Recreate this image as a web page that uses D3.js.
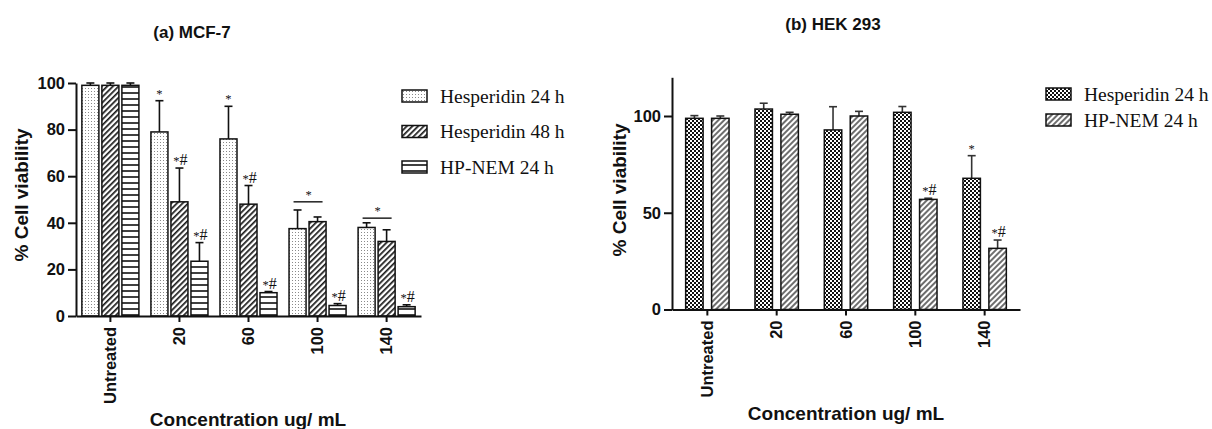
<!DOCTYPE html>
<html>
<head>
<meta charset="utf-8">
<script src="https://cdn.jsdelivr.net/npm/d3@7"></script>
<style>
  html, body { margin: 0; padding: 0; background: #fff; }
  svg { display: block; }
  .tick text { font-family: "Liberation Sans", Arial, sans-serif; font-weight: bold; font-size: 16.5px; fill: #111; }
</style>
</head>
<body>
<svg id="chart" width="1212" height="429"></svg>
<script>
// ---- MCF-7 panel data ----
const mcfCategories = ["Untreated", "20", "60", "100", "140"];
const mcfSeries = ["Hesperidin 24 h", "Hesperidin 48 h", "HP-NEM 24 h"];
const mcfHesp24 = [99, 79, 76, 37.5, 38];
const mcfHesp24Err = [1, 13.4, 14, 8, 2];
const mcfHesp48 = [99, 49, 48, 40.5, 32];
const mcfHesp48Err = [1, 14.5, 8, 2, 5];
const mcfNem24 = [99, 23.5, 10, 4.5, 4];
const mcfNem24Err = [1, 8, 0.5, 0.8, 0.8];
const mcfHesp24Marks = ["", "*", "*", "", ""];
const mcfHesp48Marks = ["", "*#", "*#", "", ""];
const mcfNem24Marks = ["", "*#", "*#", "*#", "*#"];
const mcfBracketCats = ["100", "140"];
const mcfBracketValues = [49, 42];
const mcfTicks = [0, 20, 40, 60, 80, 100];

// ---- HEK 293 panel data ----
const hekCategories = ["Untreated", "20", "60", "100", "140"];
const hekSeries = ["Hesperidin 24 h", "HP-NEM 24 h"];
const hekHesp24 = [98.8, 103.6, 92.8, 101.9, 67.8];
const hekHesp24Err = [1.4, 3, 12, 3, 11.7];
const hekNem24 = [98.8, 100.9, 100, 56.9, 31.6];
const hekNem24Err = [1.2, 1, 2.4, 0.6, 4.3];
const hekHesp24Marks = ["", "", "", "", "*"];
const hekNem24Marks = ["", "", "", "*#", "*#"];
const hekTicks = [0, 50, 100];

const svg = d3.select("#chart");
const defs = svg.append("defs");

// Fill patterns
function addPattern(id, w, h, transform, draw) {
  const p = defs.append("pattern")
    .attr("id", id).attr("patternUnits", "userSpaceOnUse")
    .attr("width", w).attr("height", h);
  if (transform) p.attr("patternTransform", transform);
  p.append("rect").attr("width", w).attr("height", h).attr("fill", "#fff");
  draw(p);
}
addPattern("stipple", 3, 3, null, p => {
  p.append("rect").attr("x", 1).attr("y", 1).attr("width", 1).attr("height", 1).attr("fill", "#8a8a8a");
});
addPattern("diagDark", 4, 4, "rotate(45)", p => {
  p.append("rect").attr("x", 0).attr("y", 0).attr("width", 1.7).attr("height", 4).attr("fill", "#1a1a1a");
});
addPattern("horiz", 6, 6, null, p => {
  p.append("rect").attr("x", 0).attr("y", 2.2).attr("width", 6).attr("height", 1.6).attr("fill", "#111");
});
addPattern("checker", 4, 4, null, p => {
  p.append("rect").attr("x", 0).attr("y", 0).attr("width", 2).attr("height", 2).attr("fill", "#111");
  p.append("rect").attr("x", 2).attr("y", 2).attr("width", 2).attr("height", 2).attr("fill", "#111");
});
addPattern("diagGrey", 4, 4, "rotate(45)", p => {
  p.append("rect").attr("x", 0).attr("y", 0).attr("width", 2).attr("height", 4).attr("fill", "#6e6e6e");
});

const axisFont = '"Liberation Sans", Arial, sans-serif';
const legendFont = '"Liberation Serif", "Times New Roman", serif';

function drawPanel(cfg) {
  const g = svg.append("g");
  const x = d3.scaleBand().domain(cfg.categories).range(cfg.xRange)
    .paddingInner(cfg.padInner).paddingOuter(cfg.padOuter);
  const xs = d3.scaleBand().domain(cfg.series).range([0, x.bandwidth()])
    .paddingInner(cfg.subPad).paddingOuter(0);
  const y = d3.scaleLinear().domain(cfg.yDomain).range(cfg.yRange);

  // bars, error bars, significance marks
  cfg.series.forEach((s, si) => {
    const vals = cfg.values[si], errs = cfg.errors[si], marks = cfg.marks[si];
    const sg = g.append("g");
    cfg.categories.forEach((c, ci) => {
      const bx = x(c) + xs(s), bw = xs.bandwidth(), cx = bx + bw / 2;
      const top = y(vals[ci] + errs[ci]);
      sg.append("line").attr("x1", cx).attr("x2", cx)
        .attr("y1", y(vals[ci])).attr("y2", top)
        .attr("stroke", cfg.errColor).attr("stroke-width", 1.6);
      sg.append("line").attr("x1", cx - 4).attr("x2", cx + 4)
        .attr("y1", top).attr("y2", top)
        .attr("stroke", cfg.errColor).attr("stroke-width", 1.6);
      sg.append("rect").attr("x", bx).attr("y", y(vals[ci]))
        .attr("width", bw).attr("height", y(0) - y(vals[ci]))
        .attr("fill", `url(#${cfg.patterns[si]})`)
        .attr("stroke", "#111").attr("stroke-width", 1.5);
      const m = marks[ci];
      if (m) {
        const t = sg.append("text").attr("x", cx + (m.length > 1 ? 1 : 0)).attr("y", top - 3)
          .attr("text-anchor", "middle").attr("font-family", legendFont).attr("fill", "#111");
        t.append("tspan").attr("font-size", 12.5).text("*");
        if (m.includes("#")) t.append("tspan").attr("font-size", 16).text("#");
      }
    });
  });

  // brackets spanning the first two series of a group
  (cfg.bracketCats || []).forEach((c, i) => {
    const c0 = x(c) + xs(cfg.series[0]) + xs.bandwidth() / 2;
    const c1 = x(c) + xs(cfg.series[1]) + xs.bandwidth() / 2;
    const by = y(cfg.bracketValues[i]);
    g.append("line").attr("x1", c0 - 4).attr("x2", c1 + 5).attr("y1", by).attr("y2", by)
      .attr("stroke", "#111").attr("stroke-width", 1.4);
    g.append("text").attr("x", (c0 + c1) / 2 + 1).attr("y", by - 3)
      .attr("text-anchor", "middle").attr("font-family", legendFont)
      .attr("font-size", 12.5).attr("fill", "#111").text("*");
  });

  // y axis
  const ya = g.append("g").attr("transform", `translate(${cfg.xRange[0]},0)`)
    .call(d3.axisLeft(y).tickValues(cfg.yTicks).tickSize(8).tickSizeOuter(0).tickPadding(3));
  ya.select(".domain").attr("stroke", "#111").attr("stroke-width", 2);
  ya.selectAll(".tick line").attr("stroke", "#111").attr("stroke-width", 2);

  // x axis
  const xa = g.append("g").attr("transform", `translate(0,${y(0)})`)
    .call(d3.axisBottom(x).tickSize(6).tickSizeOuter(0));
  xa.select(".domain").attr("stroke", "#111").attr("stroke-width", 2);
  xa.selectAll(".tick line").attr("stroke", "#111").attr("stroke-width", 2);
  xa.selectAll(".tick text")
    .attr("transform", "rotate(-90)")
    .attr("text-anchor", "end")
    .attr("x", -11).attr("y", 0).attr("dy", "0.35em");

  // axis titles
  g.append("text").attr("transform", `translate(${cfg.yLabelX},${cfg.yLabelY}) rotate(-90)`)
    .attr("text-anchor", "middle").attr("font-family", axisFont).attr("font-weight", "bold")
    .attr("font-size", 19).attr("fill", "#111").text("% Cell viability");
  g.append("text").attr("x", cfg.xLabelX).attr("y", cfg.xLabelY)
    .attr("text-anchor", "middle").attr("font-family", axisFont).attr("font-weight", "bold")
    .attr("font-size", 19).attr("fill", "#111").text("Concentration ug/ mL");

  // panel title
  g.append("text").attr("x", cfg.titleX).attr("y", cfg.titleY)
    .attr("text-anchor", "middle").attr("font-family", axisFont).attr("font-weight", "bold")
    .attr("font-size", 17).attr("fill", "#111").text(cfg.title);

  // legend
  cfg.series.forEach((s, si) => {
    const ly = cfg.legendY + si * cfg.legendStep;
    g.append("rect").attr("x", cfg.legendX).attr("y", ly - 6).attr("width", 25).attr("height", 12)
      .attr("fill", `url(#${cfg.patterns[si]})`).attr("stroke", "#111").attr("stroke-width", 1.5);
    g.append("text").attr("x", cfg.legendX + 38).attr("y", ly).attr("dy", "0.35em")
      .attr("font-family", legendFont).attr("font-size", 19.5).attr("fill", "#111").text(s);
  });
}

drawPanel({
  categories: mcfCategories, series: mcfSeries,
  values: [mcfHesp24, mcfHesp48, mcfNem24],
  errors: [mcfHesp24Err, mcfHesp48Err, mcfNem24Err],
  marks: [mcfHesp24Marks, mcfHesp48Marks, mcfNem24Marks],
  bracketCats: mcfBracketCats, bracketValues: mcfBracketValues,
  patterns: ["stipple", "diagDark", "horiz"], errColor: "#111",
  xRange: [76, 421], padInner: 0.174, padOuter: 0.085, subPad: 0.15,
  yDomain: [0, 100], yRange: [316, 83], yTicks: mcfTicks,
  yLabelX: 28, yLabelY: 195, xLabelX: 248, xLabelY: 426,
  title: "(a) MCF-7", titleX: 192, titleY: 38,
  legendX: 402, legendY: 96, legendStep: 35.5
});

drawPanel({
  categories: hekCategories, series: hekSeries,
  values: [hekHesp24, hekNem24],
  errors: [hekHesp24Err, hekNem24Err],
  marks: [hekHesp24Marks, hekNem24Marks],
  patterns: ["checker", "diagGrey"], errColor: "#333",
  xRange: [672, 1020], padInner: 0.374, padOuter: 0.197, subPad: 0.327,
  yDomain: [0, 120], yRange: [309.5, 77.3], yTicks: hekTicks,
  yLabelX: 626, yLabelY: 190, xLabelX: 846, xLabelY: 420,
  title: "(b) HEK 293", titleX: 833, titleY: 30,
  legendX: 1046, legendY: 94, legendStep: 26
});
</script>
</body>
</html>
